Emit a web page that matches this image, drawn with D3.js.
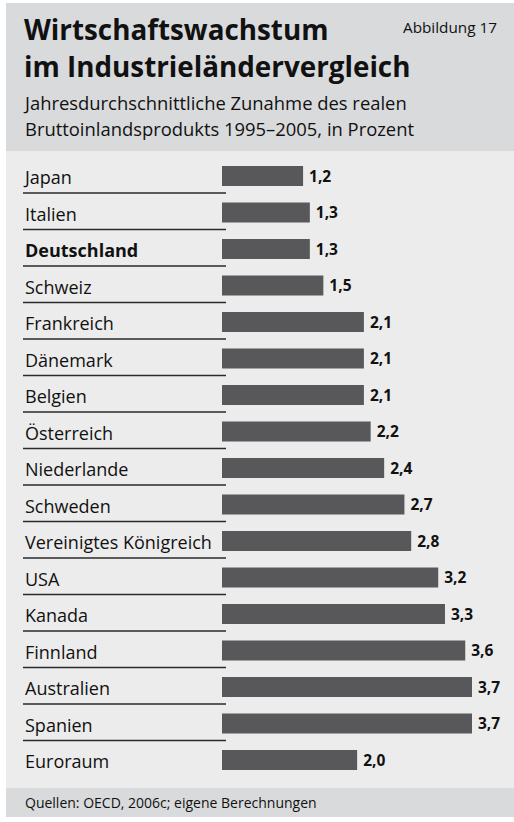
<!DOCTYPE html>
<html>
<head>
<meta charset="utf-8">
<script src="https://cdn.jsdelivr.net/npm/d3@7"></script>
<style>
  body { margin: 0; background: #fff; }
  text { font-family: 'Open Sans', sans-serif; fill: #111; }
</style>
</head>
<body>
<div id="chart"></div>
<script>
// Data
const countries = ['Japan', 'Italien', 'Deutschland', 'Schweiz', 'Frankreich', 'Dänemark', 'Belgien',
  'Österreich', 'Niederlande', 'Schweden', 'Vereinigtes Königreich', 'USA', 'Kanada', 'Finnland',
  'Australien', 'Spanien', 'Euroraum']
const growth = [1.2, 1.3, 1.3, 1.5, 2.1, 2.1, 2.1, 2.2, 2.4, 2.7, 2.8, 3.2, 3.3, 3.6, 3.7, 3.7, 2.0]
const highlight = ['Deutschland']

const title = ['Wirtschaftswachstum', 'im Industrieländervergleich']
const subtitle = ['Jahresdurchschnittliche Zunahme des realen', 'Bruttoinlandsprodukts 1995–2005, in Prozent']
const figLabel = 'Abbildung 17'
const source = 'Quellen: OECD, 2006c; eigene Berechnungen'

// canvas
const width = 514,
  height = 822

const svg = d3.select('#chart')
  .append('svg')
  .attr('width', width)
  .attr('height', height)

// background boxes
svg.append('rect').attr('x', 6).attr('y', 3).attr('width', width - 6).attr('height', 148).attr('fill', '#d9dadc')
svg.append('rect').attr('x', 6).attr('y', 151).attr('width', width - 6).attr('height', 637).attr('fill', '#ececec')
svg.append('rect').attr('x', 6).attr('y', 788).attr('width', width - 6).attr('height', 29).attr('fill', '#d9dadc')

// header texts
svg.selectAll('.title')
  .data(title)
  .enter()
  .append('text')
  .attr('class', 'title')
  .attr('x', 24)
  .attr('y', (d, i) => 40 + i * 37)
  .attr('font-size', 27.8)
  .attr('font-weight', 'bold')
  .text(d => d)

svg.selectAll('.subtitle')
  .data(subtitle)
  .enter()
  .append('text')
  .attr('class', 'subtitle')
  .attr('x', 25)
  .attr('y', (d, i) => 110 + i * 26)
  .attr('font-size', 18.4)
  .text(d => d)

svg.append('text')
  .attr('x', 497)
  .attr('y', 33)
  .attr('text-anchor', 'end')
  .attr('font-size', 15.3)
  .text(figLabel)

svg.append('text')
  .attr('x', 25)
  .attr('y', 808)
  .attr('font-size', 14)
  .text(source)

// scales
const xScale = d3.scaleLinear()
  .domain([0, d3.max(growth)])
  .range([222, 472])

const yScale = d3.scalePoint()
  .domain(countries)
  .range([176, 760])

const barHeight = 20

// rows
const rows = countries.map((c, i) => ({ name: c, value: growth[i] }))

svg.selectAll('.sep')
  .data(rows.slice(0, -1))
  .enter()
  .append('line')
  .attr('class', 'sep')
  .attr('x1', 23)
  .attr('x2', 226)
  .attr('y1', d => yScale(d.name) + 17)
  .attr('y2', d => yScale(d.name) + 17)
  .attr('stroke', '#2a2a2a')
  .attr('stroke-width', 1.3)

svg.selectAll('.bar')
  .data(rows)
  .enter()
  .append('rect')
  .attr('class', 'bar')
  .attr('x', xScale(0))
  .attr('y', d => yScale(d.name) - barHeight / 2)
  .attr('width', d => xScale(d.value) - xScale(0))
  .attr('height', barHeight)
  .attr('fill', '#58585a')

svg.selectAll('.name')
  .data(rows)
  .enter()
  .append('text')
  .attr('class', 'name')
  .attr('x', 25)
  .attr('y', d => yScale(d.name) + 8)
  .attr('font-size', 18)
  .attr('font-weight', d => highlight.includes(d.name) ? 'bold' : 'normal')
  .text(d => d.name)

const fmt = d3.format('.1f')
svg.selectAll('.val')
  .data(rows)
  .enter()
  .append('text')
  .attr('class', 'val')
  .attr('x', d => xScale(d.value) + 6)
  .attr('y', d => yScale(d.name) + 5.5)
  .attr('font-size', 15.5)
  .attr('font-weight', 'bold')
  .text(d => fmt(d.value).replace('.', ','))
</script>
</body>
</html>
